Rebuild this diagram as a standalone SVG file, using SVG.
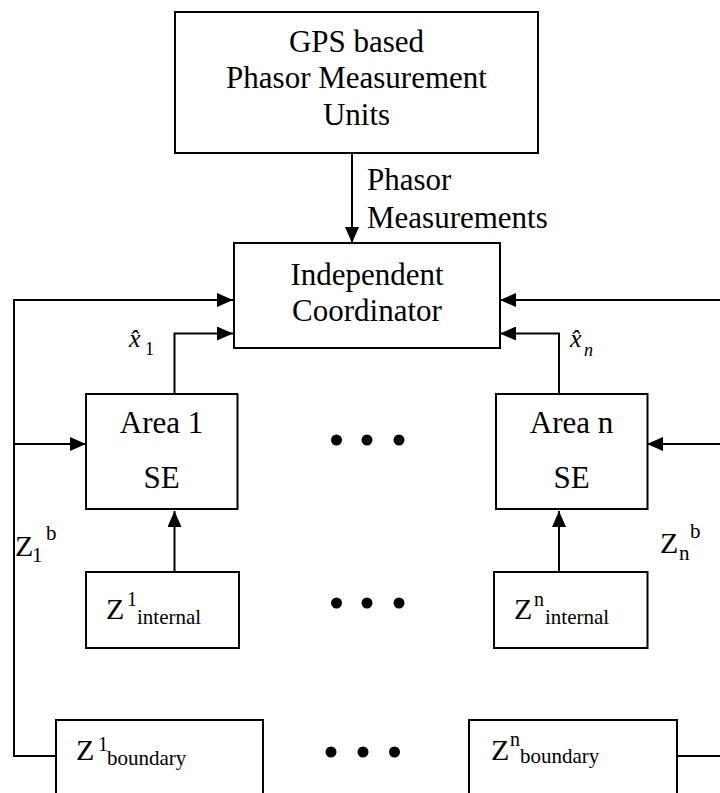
<svg xmlns="http://www.w3.org/2000/svg" width="720" height="793" viewBox="0 0 720 793" font-family="'Liberation Serif', 'Times New Roman', 'DejaVu Serif', serif">
  <defs>
    <marker id="arrow" markerUnits="userSpaceOnUse" markerWidth="16" markerHeight="14" refX="16" refY="7" orient="auto">
      <path d="M0,0 L16,7 L0,14 z" fill="#000"/>
    </marker>
    <style>
      text { font-family: 'Liberation Serif', 'Times New Roman', 'DejaVu Serif', serif; fill: #000; }
      .box { fill: #fff; stroke: #000; stroke-width: 2; }
      .wire { fill: none; stroke: #000; stroke-width: 2; }
      .lbl { font-size: 31px; }
      .mid { text-anchor: middle; }
      .z { font-size: 30px; }
      .sup { font-size: 20px; }
      .sub { font-size: 21px; }
      .est { font-size: 26px; font-style: italic; }
      .dot { fill: #000; }
    </style>
  </defs>

  <!-- connectors -->
  <g id="connectors">
    <!-- PMU to coordinator -->
    <line class="wire" x1="352" y1="154" x2="352" y2="243" marker-end="url(#arrow)"/>
    <text class="lbl" x="367" y="190">Phasor</text>
    <text class="lbl" x="367" y="228">Measurements</text>

    <!-- left boundary measurement bus -->
    <polyline class="wire" points="56,756 14,756 14,300 233,300" marker-end="url(#arrow)"/>
    <line class="wire" x1="14" y1="444" x2="86" y2="444" marker-end="url(#arrow)"/>

    <!-- right boundary measurement bus -->
    <line class="wire" x1="720" y1="300" x2="500" y2="300" marker-end="url(#arrow)"/>
    <line class="wire" x1="720" y1="444" x2="647" y2="444" marker-end="url(#arrow)"/>
    <line class="wire" x1="677" y1="756" x2="720" y2="756"/>

    <!-- area estimates to coordinator -->
    <polyline class="wire" points="174.5,394 174.5,333.5 233,333.5" marker-end="url(#arrow)"/>
    <polyline class="wire" points="559,394 559,333.5 500,333.5" marker-end="url(#arrow)"/>

    <!-- internal measurements to area estimators -->
    <line class="wire" x1="174.5" y1="572" x2="174.5" y2="511" marker-end="url(#arrow)"/>
    <line class="wire" x1="559" y1="572" x2="559" y2="511" marker-end="url(#arrow)"/>

    <!-- estimate labels: x-hat with subscript -->
    <text class="est" x="129" y="347">x̂<tspan x="145" y="355" style="font-size:18px;font-style:normal">1</tspan></text>
    <text class="est" x="570" y="347">x̂<tspan x="584" y="356" style="font-size:18px">n</tspan></text>

    <!-- boundary measurement labels -->
    <text class="z" x="15" y="556">Z<tspan class="sub" x="32" y="562">1</tspan><tspan class="sub" x="46" y="540">b</tspan></text>
    <text class="z" x="660" y="553">Z<tspan class="sub" x="679" y="560">n</tspan><tspan class="sub" x="690" y="538">b</tspan></text>
  </g>

  <!-- PMU source -->
  <g id="pmu">
    <rect class="box" x="175" y="12" width="363" height="141"/>
    <text class="lbl mid" x="356.5" y="52">GPS based</text>
    <text class="lbl mid" x="356.5" y="88">Phasor Measurement</text>
    <text class="lbl mid" x="356.5" y="125">Units</text>
  </g>

  <!-- coordinator -->
  <g id="coordinator">
    <rect class="box" x="234" y="243" width="266" height="105"/>
    <text class="lbl mid" x="367" y="285">Independent</text>
    <text class="lbl mid" x="367" y="321">Coordinator</text>
  </g>

  <!-- area state estimators -->
  <g id="area1">
    <rect class="box" x="86" y="394" width="151.5" height="115"/>
    <text class="lbl mid" x="161.5" y="433">Area 1</text>
    <text class="lbl mid" x="161.5" y="488">SE</text>
  </g>
  <g id="arean">
    <rect class="box" x="496" y="394" width="151.5" height="115"/>
    <text class="lbl mid" x="571.5" y="433">Area n</text>
    <text class="lbl mid" x="571.5" y="488">SE</text>
  </g>
  <g id="dots-se">
    <circle class="dot" cx="336.5" cy="440" r="5.5"/>
    <circle class="dot" cx="367" cy="440" r="5.5"/>
    <circle class="dot" cx="399" cy="440" r="5.5"/>
  </g>

  <!-- internal measurements -->
  <g id="internal1">
    <rect class="box" x="86" y="572" width="153" height="76"/>
    <text class="z" x="106" y="619">Z<tspan class="sup" x="127" y="606">1</tspan><tspan class="sub" x="137" y="624">internal</tspan></text>
  </g>
  <g id="internaln">
    <rect class="box" x="494" y="572" width="153.5" height="76"/>
    <text class="z" x="514" y="619">Z<tspan class="sup" x="534" y="606">n</tspan><tspan class="sub" x="545" y="624">internal</tspan></text>
  </g>
  <g id="dots-internal">
    <circle class="dot" cx="336.5" cy="603" r="5.5"/>
    <circle class="dot" cx="367" cy="603" r="5.5"/>
    <circle class="dot" cx="399" cy="603" r="5.5"/>
  </g>

  <!-- boundary measurements -->
  <g id="boundary1">
    <rect class="box" x="56" y="720" width="207" height="90"/>
    <text class="z" x="76" y="760">Z<tspan class="sup" x="98" y="751">1</tspan><tspan class="sub" x="107" y="765">boundary</tspan></text>
  </g>
  <g id="boundaryn">
    <rect class="box" x="469" y="720" width="208" height="90"/>
    <text class="z" x="491" y="760">Z<tspan class="sup" x="510" y="746">n</tspan><tspan class="sub" x="520" y="763">boundary</tspan></text>
  </g>
  <g id="dots-boundary">
    <circle class="dot" cx="331" cy="752" r="5.5"/>
    <circle class="dot" cx="363" cy="752" r="5.5"/>
    <circle class="dot" cx="394.5" cy="752" r="5.5"/>
  </g>
</svg>
